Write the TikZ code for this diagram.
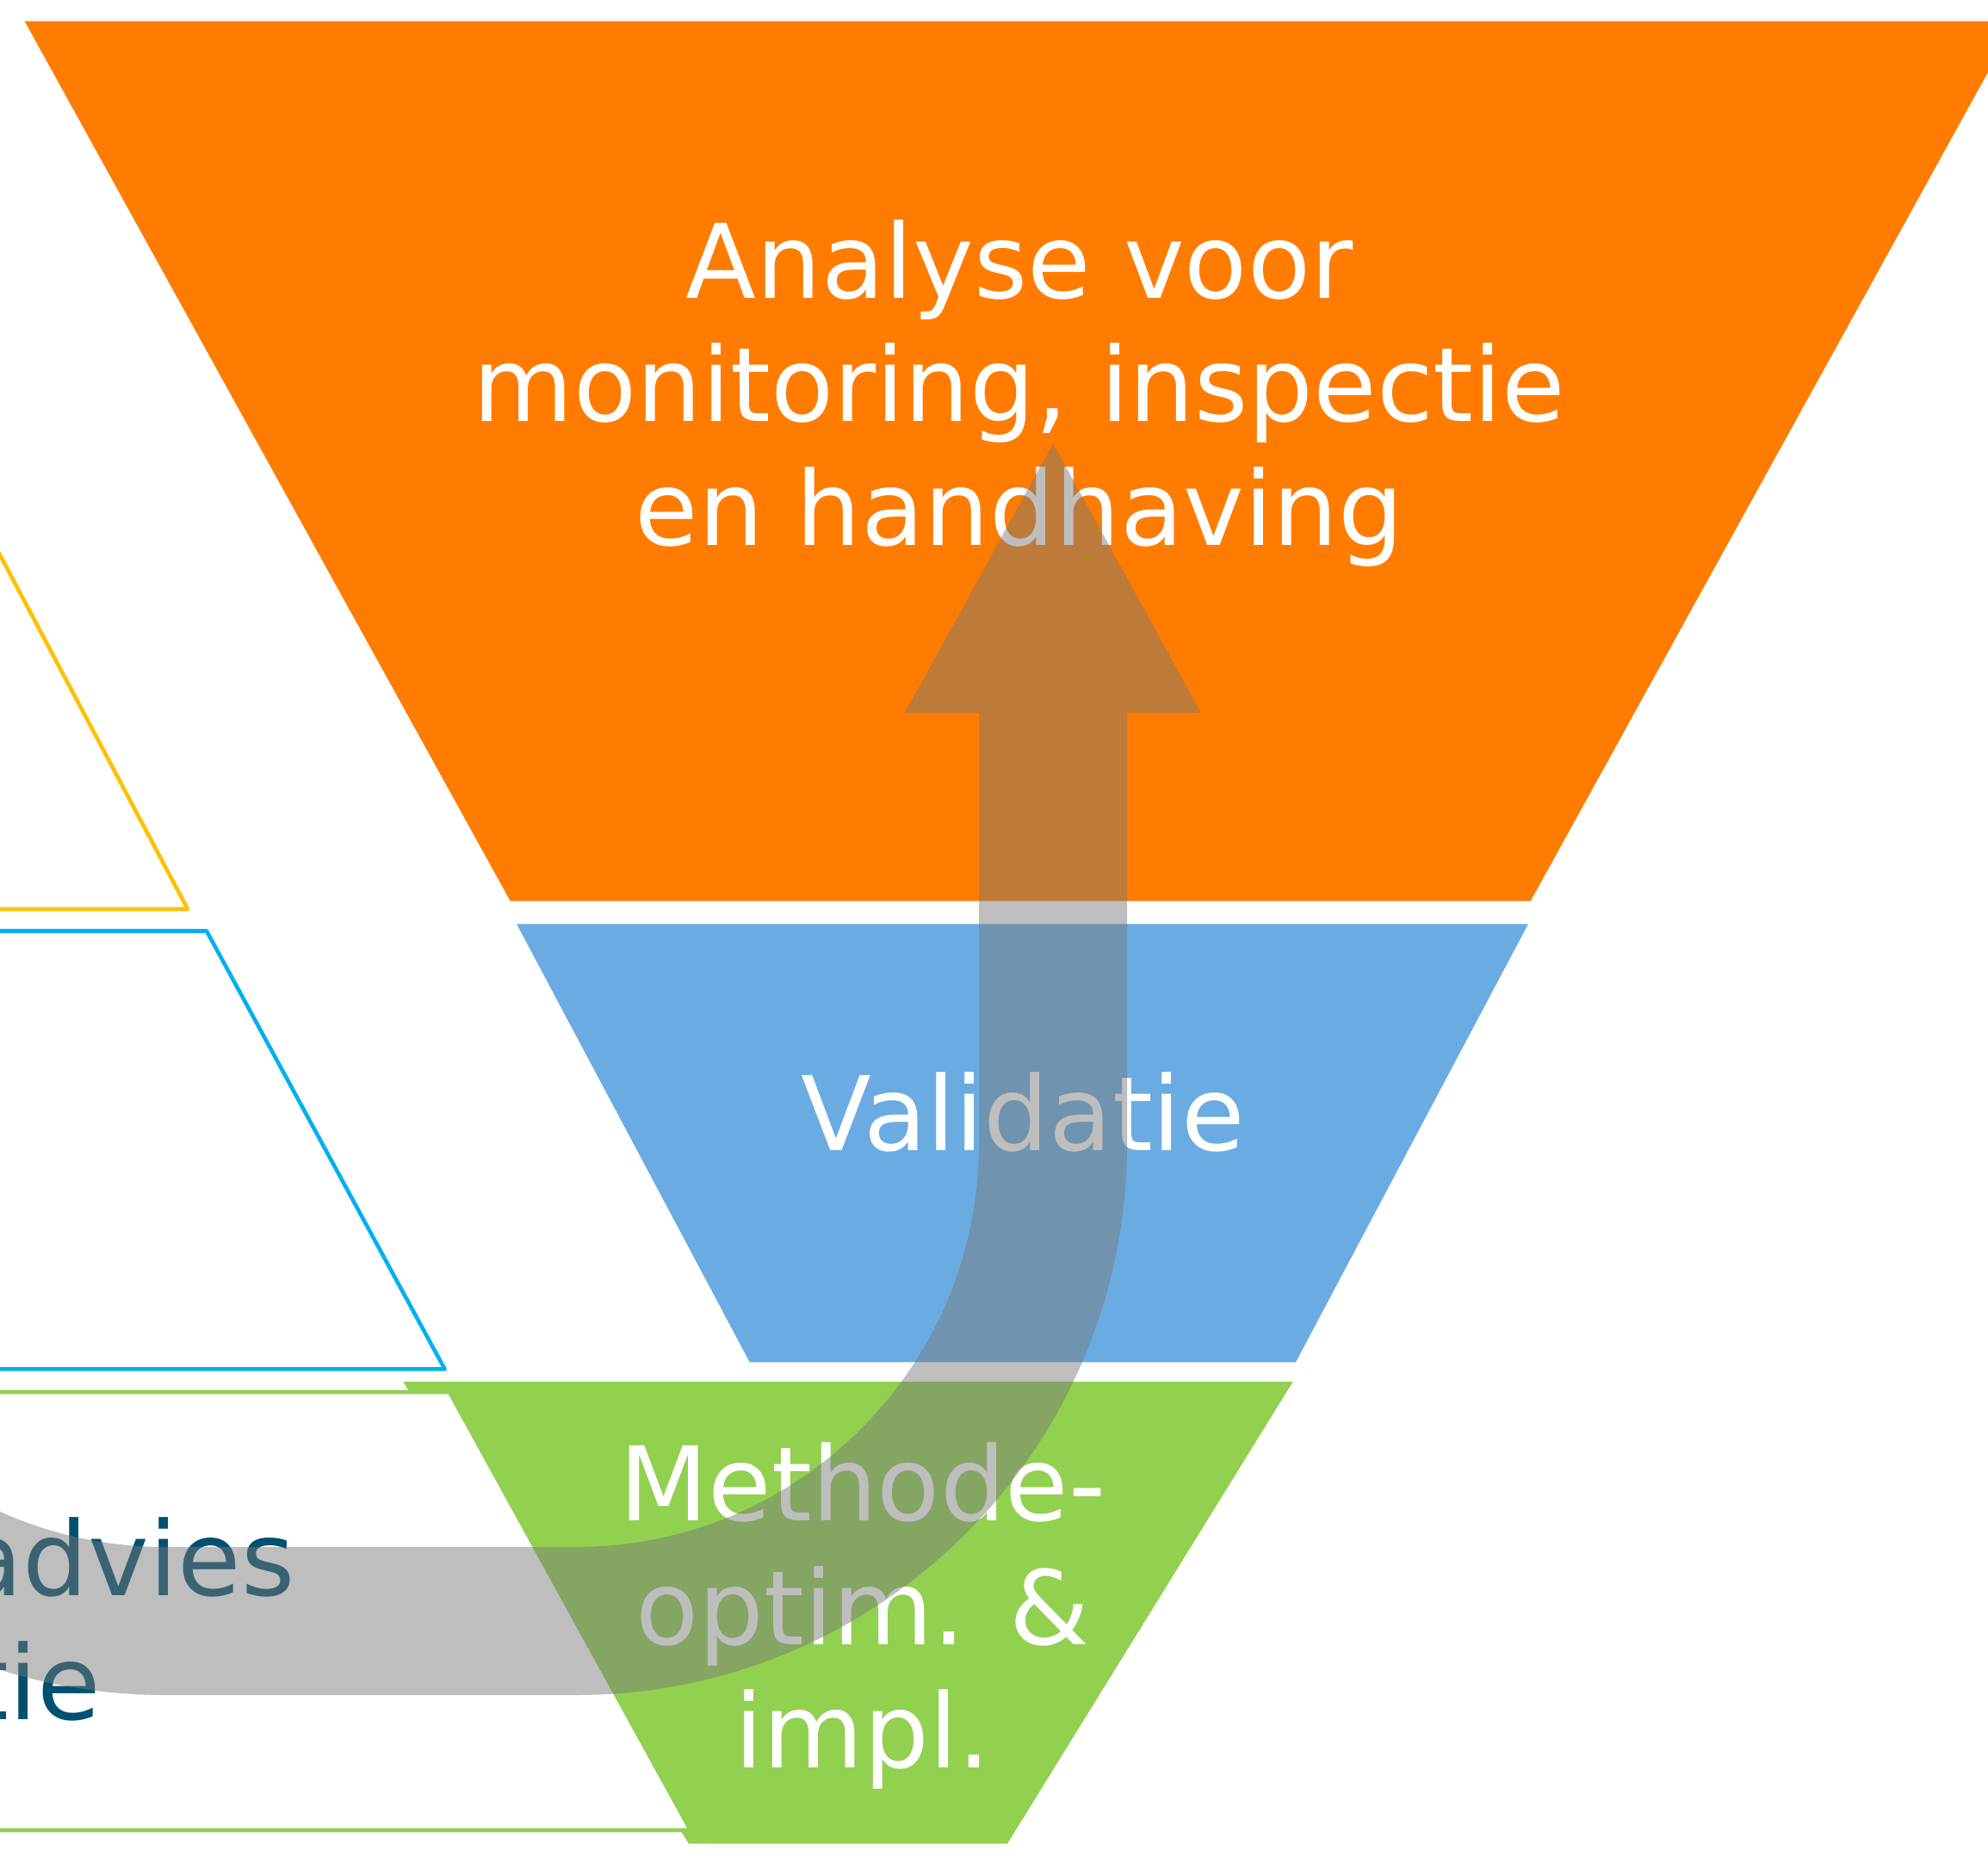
\documentclass[tikz,border=0pt]{standalone}
\usepackage{fontspec}
\setmainfont{DejaVu Sans}
\usepackage{tikz}
\definecolor{analyse}{RGB}{255,124,0}
\definecolor{validatie}{RGB}{106,172,226}
\definecolor{methode}{RGB}{146,208,80}
\definecolor{sideyellow}{RGB}{255,192,0}
\definecolor{sideblue}{RGB}{0,176,240}
\definecolor{sidedark}{RGB}{0,80,112}
\definecolor{flowgray}{RGB}{120,120,120}
\tikzstyle{funnel}=[x=0.01cm, y=-0.01cm]
\tikzstyle{stagetext}=[inner sep=0pt, text=white, align=center, font=\fontsize{34}{40.8}\selectfont]
\tikzstyle{sidetext}=[inner sep=0pt, anchor=base west, text=sidedark, font=\fontsize{34}{40.8}\selectfont]
\tikzstyle{sidebox}=[line width=1.3pt, fill=white, line join=round]
\tikzstyle{flow}=[fill=flowgray, fill opacity=0.48]
\newcommand{\picW}{2309}
\newcommand{\picH}{2149}

\begin{document}
\begin{tikzpicture}[funnel]
	\useasboundingbox (0,0) rectangle (\picW,\picH);
	\clip (0,0) rectangle (\picW,\picH);

	%The funnel stages
	\fill[analyse] (28.6,24.6) -- (2341.7,24.6) -- (1777.7,1046.7) -- (592.7,1046.7) -- cycle;
	\fill[validatie] (600,1073.3) -- (1775,1073.3) -- (1505,1582.3) -- (870.7,1582.3) -- cycle;
	\fill[methode] (468.3,1605) -- (1501.7,1605) -- (1170,2141.7) -- (800,2141.7) -- cycle;

	%The pyramid on the left, mostly cut off
	\draw[sidebox, draw=sideyellow] (-300,79) -- (218,1056) -- (-300,1056) -- cycle;
	\draw[sidebox, draw=sideblue] (-300,1081.5) -- (240,1081.5) -- (516.6,1590.4) -- (-300,1590.4) -- cycle;
	\draw[sidebox, draw=methode] (-300,1617) -- (522,1617) -- (802,2126) -- (-300,2126) -- cycle;

	%The texts
	\node[stagetext] (analyseText) at (1184,457) {Analyse voor\\monitoring, inspectie\\en handhaving};
	\node[stagetext, anchor=base] (validatieText) at (1188,1336) {Validatie};
	\node[stagetext] (methodeText) at (1002,1877) {Methode-\\optim. \&\\impl.};
	\node[sidetext] (advies) at (-47,1853) {advies};
	\node[sidetext] (tie) at (-37,1997) {tie};

	%The feedback arrow
	\fill[flow] (1309,828) -- (1309,1329) arc[start angle=0, end angle=90, radius=640]
		-- (192,1969) arc[start angle=90, end angle=180, radius=640]
		-- (-276,1329) arc[start angle=180, end angle=90, radius=468]
		-- (669,1797) arc[start angle=90, end angle=0, radius=468]
		-- (1137,828) -- (1051,828) -- (1223,515) -- (1395,828) -- cycle;
\end{tikzpicture}
\end{document}
